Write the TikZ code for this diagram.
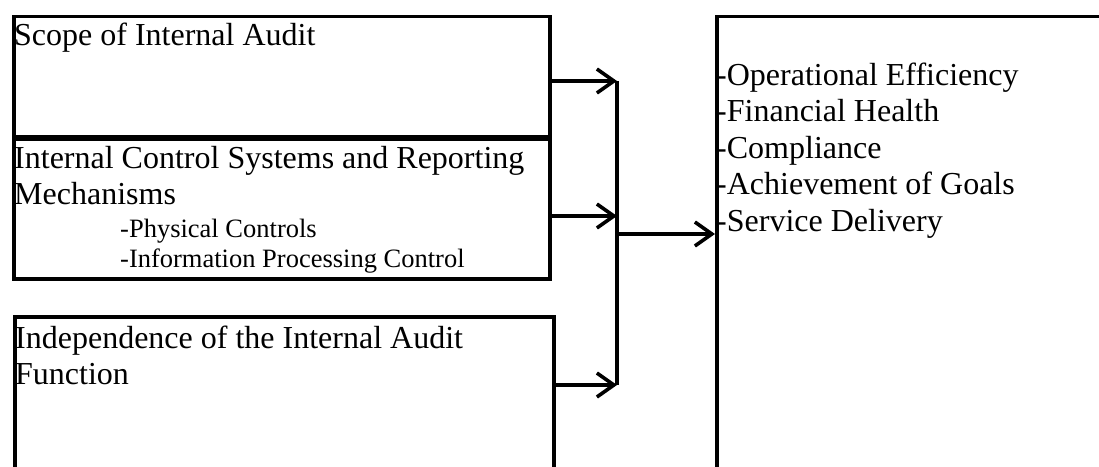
\documentclass[tikz,border=0pt]{standalone}
\usepackage{fontspec}
\setmainfont{Liberation Serif}
\usetikzlibrary{arrows.meta}

\tikzset{
  box/.style={draw=black, line width=3.6pt, fill=none, inner sep=0pt, anchor=north west},
  maintxt/.style={inner sep=0pt, anchor=base west, font=\fontsize{32}{36.7}\selectfont},
  subtxt/.style={inner sep=0pt, anchor=base west, font=\fontsize{26.5}{30.5}\selectfont},
  link/.style={draw=black, line width=3.6pt, -{Straight Barb[length=17pt, width=24pt]}},
  joint/.style={draw=black, line width=3.8pt}
}

\begin{document}
\begin{tikzpicture}[x=1pt, y=-1pt]
  \useasboundingbox (0,0) rectangle (1099,466);
  \clip (0,0) rectangle (1099,466);

  % input boxes
  \node[box, minimum width=536pt, minimum height=120.5pt] (scope) at (12,14.5) {};
  \node[box, minimum width=536pt, minimum height=140pt] (ics) at (12,137) {};
  \node[box, minimum width=539pt, minimum height=200pt] (indep) at (13,315) {};
  % outcome box
  \node[box, minimum width=500pt, minimum height=500pt] (perf) at (715,14.5) {};

  % box texts
  \node[maintxt] (t1) at (14,45) {Scope of Internal Audit};
  \node[maintxt] (t2a) at (14,168) {Internal Control Systems and Reporting};
  \node[maintxt] (t2b) at (14,204.5) {Mechanisms};
  \node[subtxt] (t2c) at (120,237) {-Physical Controls};
  \node[subtxt] (t2d) at (120,267) {-Information Processing Control};
  \node[maintxt] (t3a) at (15,348) {Independence of the Internal Audit};
  \node[maintxt] (t3b) at (15,384.5) {Function};

  \node[maintxt] (o1) at (716,85) {-Operational Efficiency};
  \node[maintxt] (o2) at (716,121.5) {-Financial Health};
  \node[maintxt] (o3) at (716,158) {-Compliance};
  \node[maintxt] (o4) at (716,194.5) {-Achievement of Goals};
  \node[maintxt] (o5) at (716,231) {-Service Delivery};

  % junction points on the collecting bar
  \coordinate (j1) at (617,81);
  \coordinate (j2) at (617,216);
  \coordinate (j3) at (617,385);
  \coordinate (jo) at (617,234);

  \draw[joint] (j1) -- (j3);
  \draw[link] (scope.east |- j1) -- (j1);
  \draw[link] (ics.east |- j2) -- (j2);
  \draw[link] (indep.east |- j3) -- (j3);
  \draw[link] (jo) -- (perf.west |- jo);
\end{tikzpicture}
\end{document}
